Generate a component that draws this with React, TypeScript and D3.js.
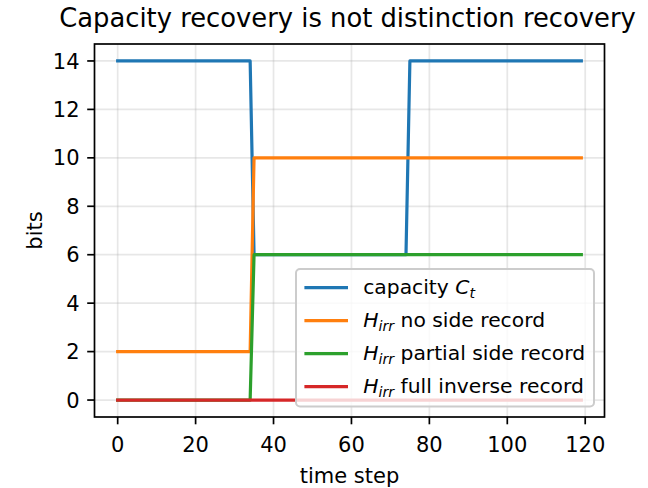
import React from 'react'
import * as d3 from 'd3'

// breakpoints of each step series (time step, bits)
const capacityT = [0, 34, 35, 74, 75, 119]
const capacityBits = [14, 14, 6, 6, 14, 14]
const noSideT = [0, 34, 35, 119]
const noSideBits = [2, 2, 10, 10]
const partialT = [0, 34, 35, 119]
const partialBits = [0, 0, 6, 6]
const fullT = [0, 119]
const fullBits = [0, 0]

const xTicks = [0, 20, 40, 60, 80, 100, 120]
const yTicks = [0, 2, 4, 6, 8, 10, 12, 14]

const seriesColors = ['#1f77b4', '#ff7f0e', '#2ca02c', '#d62728']
const legendNames = ['no side record', 'partial side record', 'full inverse record']

const W = 648
const H = 488
const left = 94.5
const right = 604.5
const top = 44
const bottom = 417
const font = 'DejaVu Sans'
const fs = 21
const lfs = 20.3

const App = () => {
    const x = d3.scaleLinear().domain([-5.95, 124.95]).range([left, right])
    const y = d3.scaleLinear().domain([-0.7, 14.7]).range([bottom, top])

    const line = d3.line<[number, number]>()
        .x(d => x(d[0]))
        .y(d => y(d[1]))

    const series = [
        d3.zip(capacityT, capacityBits),
        d3.zip(noSideT, noSideBits),
        d3.zip(partialT, partialBits),
        d3.zip(fullT, fullBits),
    ] as [number, number][][]

    // legend box, lower right
    const legW = 298
    const legH = 137.5
    const legX = right - 10.5 - legW
    const legY = bottom - 10.5 - legH

    return (
        <svg width={W} height={H} style={{ position: 'absolute', left: 0, top: 0 }} fontFamily={font}>
            <rect width={W} height={H} fill='white' />

            {/* grid */}
            {xTicks.map(t => (
                <line key={'gx' + t} x1={x(t)} x2={x(t)} y1={top} y2={bottom} stroke='#b0b0b0' strokeOpacity={0.3} strokeWidth={1.7} />
            ))}
            {yTicks.map(t => (
                <line key={'gy' + t} x1={left} x2={right} y1={y(t)} y2={y(t)} stroke='#b0b0b0' strokeOpacity={0.3} strokeWidth={1.7} />
            ))}

            {/* lines */}
            {series.map((s, i) => (
                <path key={i} d={line(s) || ''} fill='none' stroke={seriesColors[i]} strokeWidth={3.2}
                    strokeLinecap='square' strokeLinejoin='round' />
            ))}

            {/* spines */}
            <rect x={left} y={top} width={right - left} height={bottom - top} fill='none' stroke='black' strokeWidth={1.7} />

            {/* x axis */}
            {xTicks.map(t => (
                <g key={'tx' + t}>
                    <line x1={x(t)} x2={x(t)} y1={bottom} y2={bottom + 7.3} stroke='black' strokeWidth={1.7} />
                    <text x={x(t)} y={452} textAnchor='middle' fontSize={fs}>{t}</text>
                </g>
            ))}
            <text x={(left + right) / 2} y={483} textAnchor='middle' fontSize={fs}>time step</text>

            {/* y axis */}
            {yTicks.map(t => (
                <g key={'ty' + t}>
                    <line x1={left - 7.3} x2={left} y1={y(t)} y2={y(t)} stroke='black' strokeWidth={1.7} />
                    <text x={left - 15} y={y(t)} dy='0.36em' textAnchor='end' fontSize={fs}>{t}</text>
                </g>
            ))}
            <text transform={`translate(42,${(top + bottom) / 2}) rotate(-90)`} textAnchor='middle' fontSize={fs}>bits</text>

            {/* title */}
            <text x={(left + right) / 2 - 2} y={27} textAnchor='middle' fontSize={25.8}>
                Capacity recovery is not distinction recovery
            </text>

            {/* legend */}
            <rect x={legX} y={legY} width={legW} height={legH} rx={4} fill='white' fillOpacity={0.8} stroke='#cccccc' strokeWidth={2} />
            {seriesColors.map((c, i) => {
                const cy = legY + 18.7 + i * 33
                return (
                    <g key={'lg' + i}>
                        <line x1={legX + 8.4 + 1.6} x2={legX + 8.4 + 42} y1={cy} y2={cy} stroke={c} strokeWidth={3.2} strokeLinecap='square' />
                        {i === 0 ? (
                            <text x={legX + 8.4 + 42 + 16.8} y={cy + 6.5} fontSize={lfs}>
                                capacity <tspan fontStyle='italic'>C</tspan>
                                <tspan fontStyle='italic' fontSize={lfs * 0.7} dy={4}>t</tspan>
                            </text>
                        ) : (
                            <text x={legX + 8.4 + 42 + 16.8} y={cy + 6.5} fontSize={lfs}>
                                <tspan fontStyle='italic'>H</tspan>
                                <tspan fontStyle='italic' fontSize={lfs * 0.7} dy={4}>irr</tspan>
                                <tspan dy={-4}> {legendNames[i - 1]}</tspan>
                            </text>
                        )}
                    </g>
                )
            })}
        </svg>
    )
}

export default App
